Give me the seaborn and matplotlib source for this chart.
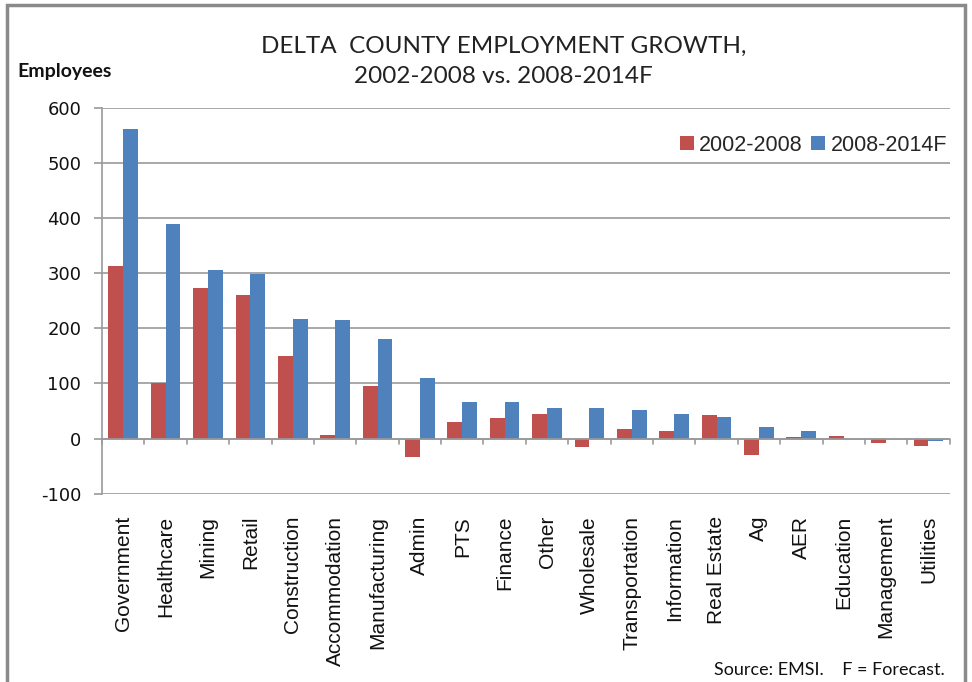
import matplotlib
matplotlib.use("Agg")
import matplotlib.pyplot as plt
import seaborn as sns
import pandas as pd
from matplotlib.patches import Rectangle

categories = ["Government", "Healthcare", "Mining", "Retail", "Construction",
              "Accommodation", "Manufacturing", "Admin", "PTS", "Finance",
              "Other", "Wholesale", "Transportation", "Information", "Real Estate",
              "Ag", "AER", "Education", "Management", "Utilities"]
growth_2002_2008 = [313, 100, 274, 261, 149, 7, 96, -34, 31, 38,
                    45, -15, 17, 13, 43, -30, 3, 5, -8, -13]
growth_2008_2014 = [562, 389, 306, 299, 217, 216, 180, 110, 66, 66,
                    56, 56, 52, 45, 40, 21, 13, 0, 0, -4]
series_names = ["2002-2008", "2008-2014F"]
yticks = [-100, 0, 100, 200, 300, 400, 500, 600]

df = pd.DataFrame({
    "Category": categories * 2,
    "Period": [series_names[0]] * len(categories) + [series_names[1]] * len(categories),
    "Value": growth_2002_2008 + growth_2008_2014,
})

sns.set_theme(style="white")
plt.rcParams['font.family'] = ['Lato', 'DejaVu Sans']

fig = plt.figure(figsize=(9.72, 6.82), dpi=100)
ax = fig.add_axes([0.105, 0.276, 0.872, 0.566])

sns.barplot(data=df, x="Category", y="Value", hue="Period", order=categories,
            hue_order=series_names, palette=["#C0504D", "#4F81BD"],
            width=0.7, ax=ax, saturation=1, edgecolor="none")

ax.set_ylim(-100, 600)
ax.set_yticks(yticks)
ax.set_yticklabels([str(v) for v in yticks], fontsize=13, color="#111111",
                   family=["DejaVu Sans"])
ax.set_xlim(-0.5, len(categories) - 0.5)
ax.grid(axis="y", color="#9a9a9a", linewidth=1.2)
ax.set_axisbelow(True)
for s in ["top", "right", "bottom"]:
    ax.spines[s].set_visible(False)
ax.spines["left"].set_color("#9a9a9a")
ax.spines["left"].set_linewidth(1.2)
ax.tick_params(axis="y", length=6, color="#9a9a9a", width=1.2, left=True, pad=9)

# zero axis line with category separators
ax.axhline(0, color="#9a9a9a", linewidth=1.2, zorder=3)
for i in range(len(categories) + 1):
    ax.plot([i - 0.5, i - 0.5], [0, -9], color="#9a9a9a", linewidth=1.2, zorder=3, clip_on=False)

ax.set_xticks(range(len(categories)))
ax.set_xticklabels(categories, rotation=90, fontsize=15, color="#111111",
                   family=["Liberation Sans"])
ax.tick_params(axis="x", length=0, pad=16)
ax.set_xlabel("")
ax.set_ylabel("")

leg = ax.legend(loc="upper right", bbox_to_anchor=(1.02, 0.98), ncol=2, frameon=False,
                prop={"family": "Liberation Sans", "size": 15.5},
                handlelength=0.65, handleheight=0.65, handletextpad=0.25,
                columnspacing=0.4)

fig.text(0.518, 0.932, "DELTA  COUNTY EMPLOYMENT GROWTH,", ha="center", va="center",
         fontsize=17.5, color="#222222")
fig.text(0.518, 0.888, "2002-2008 vs. 2008-2014F", ha="center", va="center",
         fontsize=17.5, color="#222222")
fig.text(0.018, 0.895, "Employees", ha="left", va="center", fontsize=14,
         fontweight="bold", color="#111111")
fig.text(0.972, 0.018, "Source: EMSI.    F = Forecast.", ha="right", va="center",
         fontsize=13, color="#111111")

fig.patches.append(Rectangle((0.007, -0.01), 0.986, 1.003, transform=fig.transFigure,
                             fill=False, edgecolor="#8a8a8a", linewidth=2.5))

fig.savefig("out.png", dpi=100)
